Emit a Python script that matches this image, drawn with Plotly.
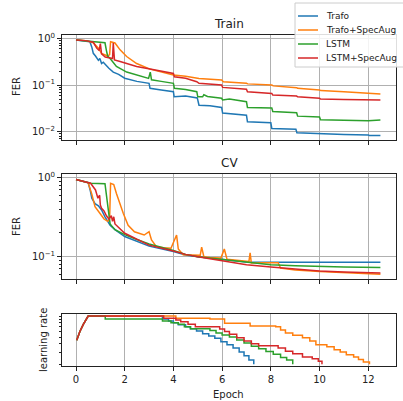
import plotly.graph_objects as go

# ---------------- data ----------------
series_names = ["Trafo", "Trafo+SpecAug", "LSTM", "LSTM+SpecAug"]
colors = ["#1f77b4", "#ff7f0e", "#2ca02c", "#d62728"]

# Train FER
train_trafo_x = [0, 0.3, 0.57, 0.65, 0.71, 0.8, 0.92, 0.98, 1.05, 1.12, 1.26, 1.35, 1.53, 1.75, 2.0, 2.5, 3.0, 3.04, 3.5, 4.0, 4.03, 4.5, 4.98, 5.05, 5.5, 5.98, 6.02, 6.5, 7.0, 7.04, 7.5, 8.0, 8.04, 8.5, 9.03, 9.07, 9.5, 10.0, 10.04, 11.0, 12.0, 12.04, 12.5]
train_trafo_y = [0.93, 0.9, 0.85, 0.65, 0.48, 0.42, 0.34, 0.37, 0.29, 0.31, 0.25, 0.23, 0.19, 0.17, 0.14, 0.12, 0.109, 0.085, 0.078, 0.072, 0.056, 0.058, 0.053, 0.037, 0.036, 0.033, 0.025, 0.024, 0.0226, 0.0163, 0.016, 0.0155, 0.0117, 0.0115, 0.0112, 0.0095, 0.0093, 0.0091, 0.0089, 0.0087, 0.0085, 0.0083, 0.0083]

train_trafo_sa_x = [0, 0.4, 0.71, 0.92, 1.05, 1.2, 1.3, 1.38, 1.42, 1.6, 1.81, 2.08, 2.49, 3.04, 3.5, 4.0, 4.5, 5.0, 5.05, 5.98, 6.05, 7.0, 7.05, 8.04, 8.1, 9.06, 9.1, 10.0, 10.05, 11.0, 12.0, 12.5]
train_trafo_sa_y = [0.93, 0.9, 0.81, 0.62, 0.48, 0.45, 0.42, 0.45, 0.85, 0.8, 0.57, 0.41, 0.29, 0.22, 0.19, 0.164, 0.155, 0.145, 0.139, 0.128, 0.118, 0.109, 0.106, 0.1, 0.096, 0.088, 0.085, 0.078, 0.076, 0.072, 0.068, 0.064]

train_lstm_x = [0, 0.5, 1.0, 1.19, 1.25, 1.3, 1.4, 1.5, 1.66, 2.08, 2.49, 2.98, 3.05, 3.1, 3.5, 4.0, 4.04, 4.5, 4.96, 5.0, 5.2, 5.25, 5.4, 5.98, 6.02, 6.3, 7.0, 7.04, 8.04, 8.08, 9.06, 9.1, 10.0, 10.04, 11.0, 12.0, 12.5]
train_lstm_y = [0.93, 0.88, 0.84, 0.81, 0.55, 0.42, 0.37, 0.32, 0.25, 0.19, 0.164, 0.139, 0.19, 0.13, 0.12, 0.109, 0.085, 0.08, 0.072, 0.056, 0.056, 0.062, 0.057, 0.052, 0.048, 0.05, 0.044, 0.033, 0.032, 0.027, 0.0255, 0.0215, 0.0205, 0.018, 0.0175, 0.0172, 0.0177]

train_lstm_sa_x = [0, 0.4, 0.71, 0.85, 0.95, 1.0, 1.05, 1.2, 1.4, 1.5, 1.53, 1.58, 1.81, 2.08, 2.49, 3.04, 3.5, 4.0, 4.04, 4.5, 4.96, 5.05, 5.98, 6.02, 7.0, 7.04, 8.04, 8.08, 9.06, 9.1, 10.0, 10.04, 11.0, 12.0, 12.5]
train_lstm_sa_y = [0.93, 0.9, 0.83, 0.62, 0.55, 0.78, 0.47, 0.4, 0.38, 0.37, 0.8, 0.345, 0.32, 0.29, 0.25, 0.22, 0.2, 0.178, 0.15, 0.14, 0.118, 0.109, 0.1, 0.089, 0.081, 0.072, 0.066, 0.061, 0.058, 0.056, 0.052, 0.05, 0.049, 0.048, 0.048]

# CV FER
cv_trafo_x = [0, 0.5, 0.58, 0.65, 0.78, 0.92, 1.05, 1.19, 1.4, 1.6, 2.0, 2.5, 3.0, 4.0, 4.5, 5.0, 6.0, 6.5, 7.0, 8.0, 9.0, 10.0, 11.0, 12.5]
cv_trafo_y = [0.95, 0.865, 0.7, 0.55, 0.47, 0.44, 0.39, 0.32, 0.25, 0.22, 0.18, 0.155, 0.136, 0.116, 0.105, 0.1, 0.093, 0.088, 0.086, 0.085, 0.085, 0.085, 0.085, 0.085]

cv_trafo_sa_x = [0, 0.5, 0.65, 0.78, 0.98, 1.15, 1.3, 1.38, 1.42, 1.55, 1.66, 1.8, 1.94, 2.14, 2.4, 2.8, 3.0, 3.1, 3.3, 3.6, 3.9, 4.13, 4.2, 4.4, 4.7, 5.1, 5.16, 5.25, 5.5, 5.95, 6.09, 6.2, 6.6, 7.1, 7.15, 7.2, 7.7, 8.3, 8.4, 9.0, 10.0, 11.0, 12.5]
cv_trafo_sa_y = [0.95, 0.86, 0.62, 0.43, 0.355, 0.3, 0.28, 0.3, 0.85, 0.82, 0.63, 0.47, 0.355, 0.25, 0.207, 0.188, 0.207, 0.163, 0.134, 0.13, 0.128, 0.188, 0.125, 0.106, 0.105, 0.104, 0.132, 0.1, 0.098, 0.096, 0.125, 0.093, 0.09, 0.087, 0.112, 0.083, 0.084, 0.084, 0.072, 0.068, 0.065, 0.063, 0.06]

cv_lstm_x = [0, 0.6, 1.19, 1.25, 1.32, 1.4, 1.6, 2.0, 2.5, 3.0, 4.0, 4.5, 5.0, 6.0, 7.0, 8.0, 9.0, 10.0, 11.0, 12.5]
cv_lstm_y = [0.95, 0.85, 0.84, 0.6, 0.36, 0.26, 0.22, 0.19, 0.165, 0.145, 0.12, 0.107, 0.1, 0.093, 0.085, 0.079, 0.077, 0.075, 0.074, 0.073]

cv_lstm_sa_x = [0, 0.6, 0.8, 0.9, 0.97, 1.0, 1.05, 1.15, 1.25, 1.35, 1.45, 1.5, 1.55, 1.6, 2.0, 2.5, 3.0, 4.0, 4.5, 5.0, 6.0, 7.0, 8.0, 9.0, 10.0, 11.0, 12.5]
cv_lstm_sa_y = [0.95, 0.85, 0.7, 0.55, 0.6, 0.45, 0.41, 0.38, 0.33, 0.3, 0.33, 0.28, 0.32, 0.26, 0.198, 0.165, 0.14, 0.118, 0.107, 0.1, 0.089, 0.079, 0.074, 0.07, 0.066, 0.064, 0.062]

# learning rate: shared warm-up, then step changes (epoch where value starts, value)
lr_warm_x = [0.03, 0.16, 0.3, 0.5]
lr_warm_y = [4.5e-4, 6.0e-4, 7.6e-4, 1.0e-3]

lr_trafo_x = [0.5, 3.55, 3.8, 4.0, 4.2, 4.5, 4.7, 4.95, 5.2, 5.45, 5.7, 5.95, 6.2, 6.45, 6.7, 6.9, 7.1, 7.3]
lr_trafo_y = [1e-3, 9.1e-4, 8.5e-4, 8.0e-4, 7.5e-4, 7.0e-4, 6.6e-4, 6.1e-4, 5.6e-4, 5.2e-4, 4.8e-4, 4.3e-4, 3.9e-4, 3.5e-4, 3.05e-4, 2.7e-4, 2.35e-4, 2.05e-4]

lr_trafo_sa_x = [0.5, 4.1, 5.5, 6.1, 7.15, 8.2, 8.4, 8.6, 8.9, 9.3, 9.6, 9.85, 10.3, 10.6, 10.85, 11.1, 11.4, 11.6, 11.8, 12.05]
lr_trafo_sa_y = [1e-3, 9.3e-4, 9.1e-4, 7.9e-4, 7.2e-4, 7.0e-4, 6.3e-4, 5.7e-4, 5.3e-4, 4.9e-4, 4.4e-4, 3.9e-4, 3.65e-4, 3.3e-4, 3.05e-4, 2.8e-4, 2.6e-4, 2.4e-4, 2.2e-4, 2.05e-4]

lr_lstm_x = [0.5, 1.2, 3.55, 3.9, 4.2, 4.45, 4.7, 5.5, 5.75, 6.0, 6.3, 6.6, 6.9, 7.2, 7.5, 7.8, 8.1, 8.4, 8.65, 8.9]
lr_lstm_y = [1e-3, 9.1e-4, 8.5e-4, 8.0e-4, 7.6e-4, 7.0e-4, 6.6e-4, 6.2e-4, 5.7e-4, 5.35e-4, 5.0e-4, 4.55e-4, 4.1e-4, 3.7e-4, 3.4e-4, 3.1e-4, 2.85e-4, 2.55e-4, 2.35e-4, 2.05e-4]

lr_lstm_sa_x = [0.5, 3.6, 4.1, 4.3, 4.6, 4.9, 5.9, 6.1, 6.3, 6.6, 6.9, 7.2, 7.5, 8.3, 8.6, 8.9, 9.3, 9.7, 9.95, 10.1]
lr_lstm_sa_y = [1e-3, 9.3e-4, 8.8e-4, 8.3e-4, 7.6e-4, 7.0e-4, 6.5e-4, 6.0e-4, 5.5e-4, 4.9e-4, 4.4e-4, 4.0e-4, 3.75e-4, 3.5e-4, 3.15e-4, 2.9e-4, 2.6e-4, 2.45e-4, 2.25e-4, 2.05e-4]

train = [(train_trafo_x, train_trafo_y), (train_trafo_sa_x, train_trafo_sa_y),
         (train_lstm_x, train_lstm_y), (train_lstm_sa_x, train_lstm_sa_y)]
cv = [(cv_trafo_x, cv_trafo_y), (cv_trafo_sa_x, cv_trafo_sa_y),
      (cv_lstm_x, cv_lstm_y), (cv_lstm_sa_x, cv_lstm_sa_y)]
lrs = [(lr_trafo_x, lr_trafo_y), (lr_trafo_sa_x, lr_trafo_sa_y),
       (lr_lstm_x, lr_lstm_y), (lr_lstm_sa_x, lr_lstm_sa_y)]


def staircase(xs, ys):
    ox, oy = [], []
    for i, (x, y) in enumerate(zip(xs, ys)):
        if i > 0:
            ox.append(x)
            oy.append(ys[i - 1])
        ox.append(x)
        oy.append(y)
    return ox, oy


fig = go.Figure()
FONT = "DejaVu Sans"
LW = 1.5

for i, name in enumerate(series_names):
    fig.add_trace(go.Scatter(x=train[i][0], y=train[i][1], mode="lines", name=name,
                             line=dict(color=colors[i], width=LW), xaxis="x", yaxis="y"))
for i, name in enumerate(series_names):
    fig.add_trace(go.Scatter(x=cv[i][0], y=cv[i][1], mode="lines", name=name,
                             line=dict(color=colors[i], width=LW), xaxis="x2", yaxis="y2"))
for i, name in enumerate(series_names):
    sx, sy = staircase(lrs[i][0], lrs[i][1])
    fx = lr_warm_x[:-1] + sx
    fy = lr_warm_y[:-1] + sy
    fig.add_trace(go.Scatter(x=fx, y=fy, mode="lines", name=name,
                             line=dict(color=colors[i], width=LW), xaxis="x3", yaxis="y3"))

W, H = 403, 401
L, R = 62, 7
PW = W - L - R


def px2x(x):
    return (x - L) / PW


def px2y(y):
    return 1 - y / H


def ydom(top, bot):
    return [1 - bot / H, 1 - top / H]


xr = [-0.575, 13.14]
xcommon = dict(range=xr, tickvals=[0, 2, 4, 6, 8, 10, 12], showgrid=True, gridcolor="#b0b0b0",
               gridwidth=1, zeroline=False, showline=True, linecolor="#222", linewidth=1,
               mirror=True, ticks="outside", ticklen=4, tickcolor="#222", automargin=False,
               tickfont=dict(family=FONT, size=10, color="#222"))

minor_train = [m * 10 ** e for e in (-3, -2, -1) for m in range(2, 10)]
minor_cv = [m * 10 ** e for e in (-2, -1) for m in range(2, 10)]
minor_lr = [m * 1e-4 for m in range(2, 10)] + [1e-3]

ycommon = dict(type="log", showgrid=True, gridcolor="#b0b0b0", gridwidth=1, zeroline=False,
               showline=True, linecolor="#222", linewidth=1, mirror=True, ticks="outside",
               ticklen=4, tickcolor="#222", automargin=False,
               tickfont=dict(family=FONT, size=10, color="#222"))

fig.update_layout(
    width=W, height=H,
    margin=dict(l=L, r=R, t=0, b=0, autoexpand=False),
    paper_bgcolor="white", plot_bgcolor="white",
    font=dict(family=FONT, color="#222"),
    showlegend=False,
    hovermode=False,
    xaxis=dict(**xcommon, domain=[0, 1], anchor="y", showticklabels=False),
    xaxis2=dict(**xcommon, domain=[0, 1], anchor="y2", showticklabels=False),
    xaxis3=dict(**xcommon, domain=[0, 1], anchor="y3", showticklabels=True),
    yaxis=dict(**ycommon, domain=ydom(35, 140), anchor="x", range=[-2.18, 0.075],
               tickvals=[1, 0.1, 0.01],
               ticktext=["10<sup>0</sup>", "10<sup>−1</sup>", "10<sup>−2</sup>"],
               minor=dict(tickvals=minor_train, ticks="outside", ticklen=2, tickcolor="#222",
                          showgrid=False)),
    yaxis2=dict(**ycommon, domain=ydom(174.3, 279.3), anchor="x2", range=[-1.286, 0.043],
                tickvals=[1, 0.1], ticktext=["10<sup>0</sup>", "10<sup>−1</sup>"],
                minor=dict(tickvals=minor_cv, ticks="outside", ticklen=2, tickcolor="#222",
                           showgrid=False)),
    yaxis3=dict(type="log", domain=ydom(314, 365.7), anchor="x3", range=[-3.71, -2.971],
                showgrid=False, zeroline=False, showline=True, linecolor="#222", linewidth=1,
                mirror=True, ticks="outside", ticklen=2, tickcolor="#222", automargin=False,
                tickvals=minor_lr, showticklabels=False),
)


def ann(text, x, y, size, angle=0, xanchor="center"):
    fig.add_annotation(text=text, x=px2x(x), y=px2y(y), xref="paper",
                       yref="paper", showarrow=False, textangle=angle,
                       font=dict(family=FONT, size=size, color="#222"),
                       xanchor=xanchor, yanchor="middle")


ann("Train", 229, 24, 12)
ann("CV", 229, 163, 12)
ann("FER", 16, 87, 10, -90)
ann("FER", 16, 227, 10, -90)
ann("learning rate", 43, 340, 10, -90)
ann("Epoch", 228, 394, 10)

# legend box (drawn manually so it can run past the right edge like the reference)
fig.add_shape(type="rect", xref="paper", yref="paper",
              x0=px2x(295), x1=px2x(412), y0=px2y(67), y1=px2y(3),
              line=dict(color="#cccccc", width=1), fillcolor="rgba(255,255,255,0.85)",
              layer="above")
legend_rows_y = [16, 30, 44, 58]
for i, name in enumerate(series_names):
    yy = legend_rows_y[i]
    fig.add_shape(type="line", xref="paper", yref="paper",
                  x0=px2x(298), x1=px2x(318), y0=px2y(yy), y1=px2y(yy),
                  line=dict(color=colors[i], width=LW), layer="above")
    ann(name, 324, yy, 9, xanchor="left")

fig.write_html("out.html", config={"displayModeBar": False, "staticPlot": True},
               post_script="document.body.style.margin='0px';document.body.style.overflow='hidden';")
